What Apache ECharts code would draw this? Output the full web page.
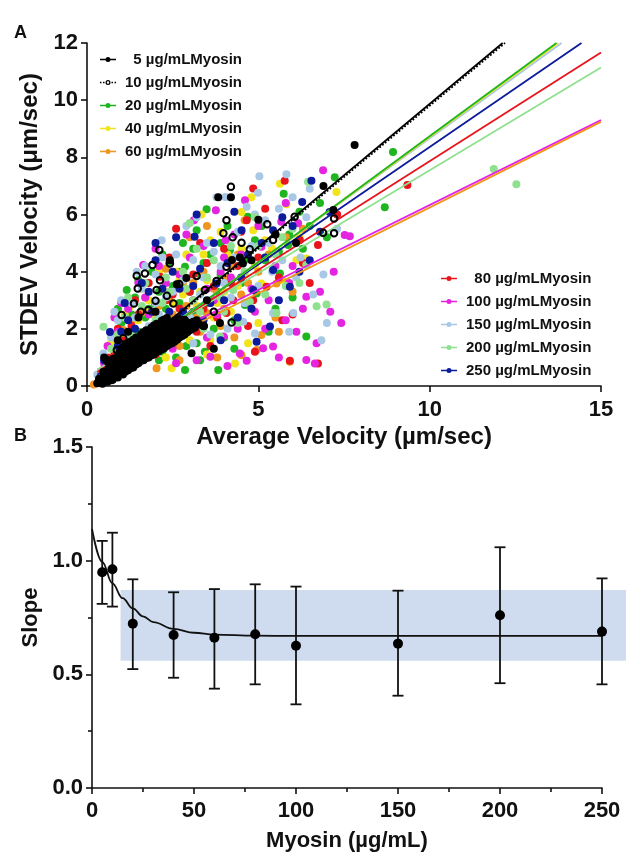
<!DOCTYPE html>
<html>
<head>
<meta charset="utf-8">
<script src="https://cdn.jsdelivr.net/npm/echarts@6/dist/echarts.min.js"></script>
<style>
html,body{margin:0;padding:0;background:#fff;}
#chart{width:626px;height:859px;}
</style>
</head>
<body>
<div id="chart"></div>
<script>
// ---------------- Panel A data ----------------
const seriesNames = ['5 µg/mLMyosin','10 µg/mLMyosin','20 µg/mLMyosin','40 µg/mLMyosin','60 µg/mLMyosin',
  '80 µg/mLMyosin','100 µg/mLMyosin','150 µg/mLMyosin','200 µg/mLMyosin','250 µg/mLMyosin'];
const xTicksA = [0, 5, 10, 15];
const yTicksA = [0, 2, 4, 6, 8, 10, 12];

const pts5 = [[0.3,0.1],[0.35,0.25],[0.45,0.08],[0.45,0.3],[0.48,0.5],[0.6,0.15],[0.58,0.38],[0.62,0.6],[0.6,0.85],
  [0.75,0.22],[0.78,0.45],[0.73,0.7],[0.76,0.95],[0.9,0.3],[0.92,0.55],[0.88,0.8],[0.9,1.05],
  [1.05,0.4],[1.07,0.65],[1.03,0.9],[1.06,1.15],[1.04,1.35],[1.2,0.55],[1.22,0.8],[1.18,1.05],[1.21,1.3],
  [1.35,0.65],[1.38,0.9],[1.33,1.15],[1.36,1.4],[1.35,1.62],[1.5,0.8],[1.52,1.05],[1.48,1.3],[1.51,1.55],
  [1.65,0.9],[1.67,1.15],[1.63,1.4],[1.66,1.65],[1.64,1.88],[1.8,1.0],[1.82,1.28],[1.78,1.52],[1.81,1.78],
  [1.95,1.1],[1.97,1.38],[1.93,1.62],[1.96,1.9],[1.95,2.12],[2.1,1.22],[2.12,1.5],[2.08,1.75],[2.11,2.0],
  [2.25,1.32],[2.27,1.6],[2.23,1.85],[2.26,2.12],[2.24,2.32],[2.4,1.45],[2.42,1.7],[2.38,1.95],[2.41,2.2],
  [2.55,1.55],[2.57,1.82],[2.53,2.05],[2.56,2.3],[2.7,1.7],[2.72,1.95],[2.68,2.2],[2.85,1.8],[2.88,2.05],[2.83,2.32],
  [3.0,1.95],[3.02,2.2],[3.15,2.05],[3.2,2.3],
  [0.38,0.15],[0.52,0.22],[0.55,0.45],[0.66,0.3],[0.68,0.52],[0.7,0.8],[0.82,0.35],[0.85,0.62],[0.83,0.9],
  [0.97,0.45],[0.99,0.72],[0.98,1.0],[0.96,1.2],[1.12,0.5],[1.14,0.78],[1.12,1.02],[1.13,1.25],[1.11,1.45],
  [1.27,0.62],[1.28,0.88],[1.26,1.12],[1.29,1.36],[1.27,1.55],[1.43,0.75],[1.44,1.0],[1.42,1.25],[1.45,1.48],
  [1.43,1.7],[1.58,0.88],[1.59,1.12],[1.57,1.35],[1.6,1.6],[1.58,1.8],[1.73,0.98],[1.74,1.22],[1.72,1.46],
  [1.75,1.72],[1.73,1.95],[1.88,1.08],[1.89,1.32],[1.87,1.56],[1.9,1.82],[1.88,2.05],[2.03,1.18],[2.04,1.42],
  [2.02,1.68],[2.05,1.92],[2.03,2.18],[2.18,1.28],[2.19,1.55],[2.17,1.8],[2.2,2.05],[2.18,2.28],[2.33,1.4],
  [2.34,1.65],[2.32,1.9],[2.35,2.15],[2.33,2.38],[2.48,1.5],[2.49,1.76],[2.47,2.0],[2.5,2.25],[2.63,1.62],
  [2.64,1.88],[2.62,2.12],[2.65,2.38],[2.78,1.75],[2.79,2.0],[2.77,2.25],[2.93,1.88],[2.94,2.12],[3.08,2.0],
  [3.1,2.25],[3.28,2.15],
  [3.4,2.1],[3.05,1.15],[3.88,2.2],[2.9,3.78],[2.62,3.56],[2.42,4.4],[3.83,6.6],[4.2,6.6],[5.0,5.82],[6.9,7.0],
  [7.19,6.16],[4.23,4.41],[4.46,4.5],[4.55,4.29],[7.81,8.43],[1.5,2.4],[1.2,1.9],[0.9,1.6],[2.0,2.6],[3.5,3.0],
  [4.8,4.4],[5.5,5.3],[6.1,5.0],[3.7,1.3],[0.5,1.0]];
const pts10 = [[4.2,6.97],[4.07,5.8],[5.26,5.66],[4.75,4.78],[4.51,5.01],[3.98,5.34],[4.25,5.2],[5.43,5.11],
  [6.06,5.92],[7.21,5.86],[6.89,5.36],[7.21,5.34],[3.41,2.1],[3.7,2.6],[2.11,4.76],[2.42,4.29],[1.91,4.23],
  [1.69,3.94],[1.45,3.86],[2.13,3.7],[2.69,3.57],[3.2,3.85],[3.44,3.36],[3.78,3.67],[4.07,4.17],[2.03,3.36],
  [2.33,3.16],[2.0,2.98],[1.48,3.41],[1.79,2.66],[1.57,2.6],[1.37,2.89],[1.01,2.48],[1.06,1.67],[0.87,1.26],
  [0.57,0.92],[0.72,0.21],[2.86,2.3],[2.52,2.89],[4.22,2.22]];
const pts20 = [[7.23,7.3],[5.74,6.73],[4.69,5.92],[3.49,6.18],[3.2,5.45],[2.86,4.17],[4.17,4.75],[5.87,4.93],
  [5.63,3.94],[4.95,3.24],[4.61,2.83],[2.86,0.56],[3.83,0.56],[3.44,1.2],[1.98,2.89],[1.16,3.36],[6.4,1.73],
  [8.93,8.19],[8.69,6.25],[0.8,1.5],[1.0,2.2],[1.3,2.5],[1.5,1.9],[1.7,2.4],[2.1,3.3],[2.3,2.7],[2.5,3.5],
  [2.7,2.9],[3.0,3.3],[3.1,2.6],[3.3,3.9],[3.6,4.6],[3.9,5.0],[2.2,1.2],[2.6,1.0],[3.2,1.5],[3.7,2.0],[4.3,2.3],
  [4.5,3.6],[5.2,4.4],[5.9,5.3],[6.5,5.6],[1.2,0.7],[0.6,0.9],[1.9,4.0],[2.8,5.0],[4.0,1.7],[0.9,2.7],[2.4,4.3],
  [5.5,2.7],[6.2,6.1],[5.1,5.6],[3.4,4.3],
  [0.7,0.5],[1.1,1.3],[1.4,3.1],[1.6,1.0],[1.8,2.7],[2.0,1.8],[2.2,4.6],[2.5,2.3],[2.7,4.0],[2.9,1.4],[3.1,4.8],
  [3.3,0.9],[3.5,2.9],[3.8,3.3],[4.1,5.6],[4.3,1.3],[4.6,4.4],[4.9,5.1],[5.3,1.9],[5.6,4.7],[6.0,3.1],[6.3,4.8],
  [6.8,6.4],[7.0,5.2],[1.5,3.7],[2.1,0.9],[3.9,3.9]];
const pts40 = [[5.63,7.08],[5.82,6.36],[4.51,6.09],[4.85,5.45],[3.34,6.0],[5.09,3.59],[6.11,4.4],[4.51,4.81],
  [2.71,2.13],[4.32,0.79],[2.47,0.62],[3.6,1.61],[1.74,1.89],[1.25,2.77],[7.28,6.79],[6.4,4.46],[0.8,1.2],
  [1.0,1.8],[1.5,2.3],[1.8,3.0],[2.0,2.4],[2.2,3.4],[2.5,2.9],[2.8,3.2],[3.0,1.6],[3.2,2.8],[3.5,3.7],[3.7,2.4],
  [4.0,3.3],[4.2,2.6],[4.6,3.9],[2.6,4.0],[1.4,1.1],[3.9,5.4],[5.4,4.8],[5.0,2.2],[2.1,1.5],[0.6,0.7],[4.7,1.5],[3.4,4.6],
  [0.7,1.5],[0.9,0.8],[1.1,2.5],[1.3,1.6],[1.6,3.4],[1.9,2.0],[2.1,4.0],[2.4,2.2],[2.7,3.7],[2.9,4.6],[3.1,2.2],
  [3.3,3.3],[3.6,5.1],[3.8,2.9],[4.1,4.6],[4.4,3.5],[4.9,4.2],[5.2,5.1],[5.7,3.7],[6.2,5.2],[2.3,1.0],[3.5,1.1],
  [1.7,2.6],[4.8,6.6]];
const pts60 = [[4.51,1.08],[5.92,0.85],[5.09,1.78],[4.95,1.26],[5.53,3.59],[4.07,3.77],[1.93,1.26],[1.06,1.96],
  [2.03,0.62],[3.49,2.55],[1.25,1.84],[0.2,0.05],[0.4,0.3],[0.7,0.9],[0.9,1.3],[1.4,1.5],[1.6,2.6],[1.8,1.7],
  [2.2,2.2],[2.4,3.0],[2.7,1.4],[2.9,2.8],[3.1,3.6],[3.3,1.9],[3.6,2.9],[3.9,2.1],[4.2,4.2],[4.5,3.2],[4.8,2.7],
  [5.3,4.6],[5.8,5.2],[6.3,5.5],[2.6,2.0],[3.0,5.2],[4.6,5.8],[1.1,2.4],[5.6,1.9],[3.8,1.0],[2.3,4.1],[6.0,3.3],
  [0.5,0.5],[0.8,1.7],[1.0,0.9],[1.3,2.3],[1.5,1.0],[1.7,3.1],[2.0,2.0],[2.1,2.8],[2.5,2.5],[2.8,3.6],[3.2,2.4],
  [3.4,4.0],[3.7,3.4],[4.0,2.7],[4.3,1.7],[4.4,4.6],[4.7,3.6],[5.0,4.0],[5.5,2.4],[1.2,1.3],[2.7,0.9],[3.5,5.6]];
const pts80 = [[5.77,7.18],[4.85,6.91],[4.66,5.8],[6.21,5.11],[6.74,0.79],[5.92,0.88],[4.85,3.0],[5.24,3.47],
  [6.74,4.93],[4.07,2.55],[2.71,2.43],[4.27,3.0],[2.13,3.82],[9.35,7.03],[0.5,0.6],[0.8,1.1],[1.1,1.6],[1.3,2.1],
  [1.6,1.3],[1.9,2.6],[2.2,1.8],[2.5,3.2],[2.9,2.0],[3.1,3.9],[3.4,2.7],[3.7,3.5],[4.0,4.8],[4.4,4.2],[5.0,4.5],
  [5.5,5.3],[6.0,2.5],[6.5,3.6],[3.6,1.4],[2.0,1.1],[3.3,5.0],[5.7,2.3],[1.4,3.0],[0.35,0.2],[7.3,6.0],
  [0.6,1.0],[0.9,2.0],[1.2,1.2],[1.5,2.5],[1.7,1.7],[2.1,2.4],[2.3,3.0],[2.4,4.5],[2.7,2.7],[3.0,3.3],[3.2,1.9],
  [3.5,4.3],[3.8,2.4],[4.2,3.6],[4.5,5.4],[4.7,2.1],[5.2,6.2],[5.6,3.8],[6.3,4.3],[2.6,5.5],[1.8,3.6],[4.9,1.2]];
const pts100 = [[6.89,7.55],[4.61,6.5],[3.76,6.15],[3.12,5.8],[5.67,5.75],[6.16,5.69],[4.05,5.1],[5.09,4.87],
  [6.4,3.12],[6.11,1.9],[6.4,0.91],[4.66,0.88],[5.14,1.32],[3.98,1.73],[3.6,1.02],[1.64,4.23],[2.13,2.31],
  [7.52,5.28],[7.67,5.24],[5.43,1.38],[4.46,1.14],[7.42,2.2],[6.65,0.79],[0.6,1.4],[0.9,1.9],[1.2,2.7],[1.4,1.3],
  [1.7,3.1],[1.9,2.0],[2.3,3.6],[2.5,1.3],[2.8,2.6],[3.0,4.5],[3.3,2.2],[3.5,3.4],[3.8,2.5],[4.2,3.8],[4.4,2.0],
  [4.9,2.6],[5.3,3.0],[5.8,2.3],[6.0,4.2],[6.7,1.5],[2.6,0.8],[4.0,4.5],[2.0,4.8],[1.1,0.6],[5.6,1.0],[7.1,2.6],
  [3.2,0.9],[5.0,5.6],
  [0.5,0.8],[0.8,2.4],[1.0,2.9],[1.3,1.9],[1.5,3.6],[1.8,2.5],[2.1,4.2],[2.4,1.9],[2.7,3.9],[2.9,5.3],[3.1,3.0],
  [3.4,4.9],[3.7,3.0],[3.9,4.0],[4.3,5.3],[4.5,4.6],[4.8,3.4],[5.2,2.0],[5.5,4.2],[5.9,3.6],[6.3,2.7],[6.8,3.3],
  [7.2,4.0],[5.8,6.4],[4.1,0.7],[3.5,1.7]];
const pts150 = [[5.82,7.41],[5.03,7.34],[3.78,6.6],[4.04,6.61],[4.99,6.76],[4.66,6.27],[6.84,1.6],[2.18,5.1],
  [6.23,4.5],[6.02,2.55],[4.56,2.25],[5.43,2.55],[4.9,1.84],[0.48,1.14],[1.45,4.0],[3.1,4.41],[0.7,1.7],[0.9,2.3],
  [1.1,1.2],[1.3,2.9],[1.6,3.4],[1.8,2.1],[2.0,3.9],[2.3,3.1],[2.6,4.6],[2.9,5.6],[3.0,2.4],[3.3,3.2],[3.5,5.0],
  [3.9,4.2],[4.2,3.1],[4.4,5.4],[4.8,4.9],[5.2,5.8],[5.6,6.2],[6.0,6.6],[6.5,6.9],[3.6,1.8],[2.4,1.6],[1.5,0.9],
  [0.3,0.4],[5.0,3.5],[6.6,3.2],[7.0,2.2],[2.8,3.7],[1.9,1.4],[5.4,4.0],[7.3,5.5],
  [0.6,0.6],[0.8,2.6],[1.0,3.0],[1.2,1.8],[1.4,2.4],[1.7,4.2],[2.1,2.5],[2.2,4.5],[2.5,3.3],[2.7,2.0],[3.2,5.9],
  [3.4,3.8],[3.7,4.7],[4.0,3.6],[4.3,4.5],[4.6,2.9],[4.9,6.0],[5.3,5.0],[5.7,4.4],[6.1,3.8],[6.4,5.9],[3.1,1.5],
  [4.1,2.0],[2.0,2.9],[1.6,1.5],[5.9,1.9],[6.9,3.9]];
const pts200 = [[6.45,7.15],[6.7,2.79],[6.99,2.85],[6.4,4.23],[5.53,2.55],[4.75,2.95],[4.27,3.36],[0.48,2.07],
  [3.88,1.73],[11.87,7.59],[12.53,7.06],[0.7,1.3],[1.0,1.0],[1.3,1.8],[1.6,2.8],[1.9,1.6],[2.2,2.9],[2.5,2.2],
  [2.8,4.0],[3.1,3.0],[3.4,2.0],[3.7,4.4],[4.0,2.6],[4.6,4.0],[5.0,4.9],[5.5,4.6],[6.0,5.5],[2.3,3.8],[3.2,4.8],
  [5.8,3.5],[1.2,3.1],[4.9,5.9],
  [0.6,0.9],[0.9,1.8],[1.1,2.4],[1.4,1.2],[1.7,3.6],[2.0,2.3],[2.4,3.3],[2.6,1.6],[2.9,3.4],[3.3,2.6],[3.5,3.8],
  [3.9,3.1],[4.2,4.9],[4.4,2.2],[5.2,3.2],[5.7,5.2],[6.2,3.6],[3.0,5.7]];
const pts250 = [[6.55,7.18],[6.28,6.44],[7.08,6.09],[5.43,5.45],[4.51,5.45],[3.14,5.22],[5.43,4.06],[5.92,3.47],
  [5.34,2.08],[4.95,1.55],[3.78,3.59],[4.85,3.36],[0.67,1.89],[0.5,0.9],[0.9,1.4],[1.2,2.3],[1.5,1.6],[1.8,3.3],
  [2.1,2.1],[2.4,2.6],[2.7,3.4],[3.0,2.2],[3.3,4.1],[3.6,2.9],[4.1,4.3],[4.4,2.4],[4.7,4.6],[5.1,5.0],[5.7,5.9],
  [6.2,4.0],[2.0,4.4],[1.3,0.8],[3.9,1.6],[4.3,6.1],[2.6,5.2],[6.8,5.4],
  [0.7,0.7],[1.0,1.9],[1.1,2.9],[1.4,2.0],[1.6,3.6],[1.9,2.6],[2.2,3.4],[2.3,1.5],[2.5,4.0],[2.8,2.6],[3.1,3.5],
  [3.4,2.3],[3.7,5.0],[4.0,3.0],[4.5,3.8],[4.8,2.7],[5.2,4.5],[5.6,3.0],[6.0,5.6],[6.5,4.4],[3.2,6.0],[2.0,5.0]];

// fitted lines (end points)
const fit5 = [[0.3,0.17],[12.13,12]];
const fit10 = [[0.3,0.12],[12.2,12]];
const fit20 = [[0.3,0.19],[13.7,12]];
const fit40 = [[0.3,0.2],[13.75,12]];
const fit60 = [[0.3,0.43],[15,9.24]];
const fit80 = [[0.3,0.49],[15,11.67]];
const fit100 = [[0.3,0.57],[15,9.3]];
const fit150 = [[0.3,0.25],[13.85,12]];
const fit200 = [[0.3,0.57],[15,11.14]];
const fit250 = [[0.3,0.39],[14.43,12]];

// ---------------- Panel B data ----------------
const myosin = [5, 10, 20, 40, 60, 80, 100, 150, 200, 250];
const slope = [0.949, 0.962, 0.723, 0.673, 0.661, 0.676, 0.626, 0.635, 0.760, 0.688];
const slopeHigh = [1.087, 1.123, 0.918, 0.861, 0.875, 0.896, 0.886, 0.868, 1.059, 0.922];
const slopeLow = [0.810, 0.798, 0.523, 0.485, 0.437, 0.456, 0.368, 0.406, 0.461, 0.456];
const curveX = [0, 5, 10, 15, 20, 25, 30, 40, 50, 60, 80, 100, 150, 200, 250];
const curveY = [1.14, 0.995, 0.90, 0.835, 0.79, 0.755, 0.73, 0.70, 0.683, 0.675, 0.670, 0.669, 0.669, 0.669, 0.669];
const bandX = [14, 262];
const bandY = [0.56, 0.871];
const xTicksB = [0, 50, 100, 150, 200, 250];
const yTicksB = [0.0, 0.5, 1.0, 1.5];

// ---------------- styling ----------------
const FONT = '"Liberation Sans", Arial, Helvetica, sans-serif';
const colors = ['#000000','#000000','#1fb51f','#f2e41a','#f0951e','#e8141c','#e424e0','#a9c8e6','#8fe08f','#0c1a9c'];
const ptsAll = [pts5, pts10, pts20, pts40, pts60, pts80, pts100, pts150, pts200, pts250];
const fitsAll = [fit5, fit10, fit20, fit40, fit60, fit80, fit100, fit150, fit200, fit250];

const ICON_SOLID = 'path://M0,1.75H16V3.25H0Z M5.5,2.5A2.5,2.5 0 1,1 10.5,2.5A2.5,2.5 0 1,1 5.5,2.5Z';
const ICON_DOT = 'path://M0,1.8H1.5V3.2H0Z M3,1.8H4.5V3.2H3Z M11.5,1.8H13V3.2H11.5Z M14.5,1.8H16V3.2H14.5Z M5.5,2.5A2.5,2.5 0 1,1 10.5,2.5A2.5,2.5 0 1,1 5.5,2.5Z M6.8,2.5A1.2,1.2 0 1,0 9.2,2.5A1.2,1.2 0 1,0 6.8,2.5Z';

function legendItem(i) {
  return { name: seriesNames[i], icon: i === 1 ? ICON_DOT : ICON_SOLID,
    itemStyle: { color: colors[i], borderWidth: 0, opacity: 1 } };
}
const legendText = { fontSize: 15, fontWeight: 'bold', fontFamily: FONT, color: '#111', lineHeight: 15, padding: [0,0,0,4] };
const padName = n => (n.startsWith('5 ') || n.startsWith('80 ')) ? '  ' + n : n;

const axisLineStyle = { color: '#111', width: 1.6 };
const tickLabel = { fontSize: 22, fontWeight: 'bold', fontFamily: FONT, color: '#111' };
const nameStyleA = { fontSize: 24, fontWeight: 'bold', fontFamily: FONT, color: '#111' };
const nameStyleB = { fontSize: 22, fontWeight: 'bold', fontFamily: FONT, color: '#111' };

const series = [];
// scatter (colored first)
const scatterOrder = [2,3,4,5,6,7,8,9];
scatterOrder.forEach(i => {
  series.push({ type: 'scatter', name: seriesNames[i], xAxisIndex: 0, yAxisIndex: 0,
    data: ptsAll[i], symbolSize: 8, z: 2, itemStyle: { color: colors[i], opacity: 1 } });
});
// fit lines
const lineOrder = [6,4,8,5,9,7,3,2,0,1];
lineOrder.forEach(i => {
  series.push({ type: 'line', name: 'fit ' + seriesNames[i], xAxisIndex: 0, yAxisIndex: 0,
    data: fitsAll[i], showSymbol: false, symbol: 'none', z: 3, silent: true,
    lineStyle: { color: colors[i], width: 1.8, type: i === 1 ? 'dotted' : 'solid' } });
});
series.push({ type: 'scatter', name: seriesNames[0], xAxisIndex: 0, yAxisIndex: 0, data: pts5,
  symbolSize: 8, z: 4, itemStyle: { color: '#000', opacity: 1 } });
series.push({ type: 'scatter', name: seriesNames[1], xAxisIndex: 0, yAxisIndex: 0, data: pts10,
  symbolSize: 6.5, z: 5, itemStyle: { color: 'rgba(0,0,0,0)', borderColor: '#000', borderWidth: 2, opacity: 1 } });

// Panel B
series.push({ type: 'custom', name: 'band', xAxisIndex: 1, yAxisIndex: 1, clip: false, z: 1, silent: true,
  data: [[bandX[0], bandY[0], bandX[1], bandY[1]]],
  renderItem: (params, api) => {
    const p1 = api.coord([api.value(0), api.value(3)]);
    const p2 = api.coord([api.value(2), api.value(1)]);
    return { type: 'rect', shape: { x: p1[0], y: p1[1], width: p2[0] - p1[0], height: p2[1] - p1[1] },
      style: { fill: '#cfdcef' } };
  } });
series.push({ type: 'line', name: 'curve', xAxisIndex: 1, yAxisIndex: 1, data: curveX.map((x, i) => [x, curveY[i]]),
  smooth: 0.4, smoothMonotone: 'x', showSymbol: false, symbol: 'none', z: 3, silent: true,
  lineStyle: { color: '#111', width: 1.8 } });
series.push({ type: 'custom', name: 'err', xAxisIndex: 1, yAxisIndex: 1, z: 4, silent: true,
  data: myosin.map((m, i) => [m, slopeLow[i], slopeHigh[i]]),
  encode: { x: 0, y: [1, 2] },
  renderItem: (params, api) => {
    const hi = api.coord([api.value(0), api.value(2)]);
    const lo = api.coord([api.value(0), api.value(1)]);
    const w = 5.5, st = { stroke: '#111', lineWidth: 1.8 };
    return { type: 'group', children: [
      { type: 'line', shape: { x1: hi[0], y1: hi[1], x2: lo[0], y2: lo[1] }, style: st },
      { type: 'line', shape: { x1: hi[0] - w, y1: hi[1], x2: hi[0] + w, y2: hi[1] }, style: st },
      { type: 'line', shape: { x1: lo[0] - w, y1: lo[1], x2: lo[0] + w, y2: lo[1] }, style: st }
    ] };
  } });
series.push({ type: 'scatter', name: 'slope', xAxisIndex: 1, yAxisIndex: 1, data: myosin.map((m, i) => [m, slope[i]]),
  symbolSize: 10, z: 5, itemStyle: { color: '#000', opacity: 1 } });

const option = {
  backgroundColor: '#fff',
  animation: false,
  title: [
    { text: 'A', left: 9, top: 19, textStyle: { fontSize: 18, fontWeight: 'bold', fontFamily: FONT, color: '#111' } },
    { text: 'B', left: 9, top: 422, textStyle: { fontSize: 18, fontWeight: 'bold', fontFamily: FONT, color: '#111' } }
  ],
  legend: [
    { orient: 'vertical', left: 95, top: 47, itemWidth: 16, itemHeight: 5, itemGap: 8, selectedMode: false,
      textStyle: legendText, formatter: padName, data: [0,1,2,3,4].map(legendItem) },
    { orient: 'vertical', left: 436, top: 266, itemWidth: 16, itemHeight: 5, itemGap: 8, selectedMode: false,
      textStyle: legendText, formatter: padName, data: [5,6,7,8,9].map(legendItem) }
  ],
  grid: [
    { left: 87, top: 43, width: 514, height: 343, containLabel: false, outerBoundsMode: 'none' },
    { left: 92, top: 447, width: 510, height: 341, containLabel: false, outerBoundsMode: 'none' }
  ],
  xAxis: [
    { gridIndex: 0, type: 'value', min: xTicksA[0], max: xTicksA[xTicksA.length - 1], interval: 5,
      axisLine: { show: true, lineStyle: axisLineStyle }, axisTick: { show: true, length: 6, lineStyle: axisLineStyle },
      axisLabel: { ...tickLabel, margin: 13 }, splitLine: { show: false },
      name: 'Average Velocity (µm/sec)', nameLocation: 'middle', nameGap: 39, nameTextStyle: nameStyleA },
    { gridIndex: 1, type: 'value', min: xTicksB[0], max: xTicksB[xTicksB.length - 1], interval: 50,
      axisLine: { show: true, lineStyle: axisLineStyle }, axisTick: { show: true, length: 6, lineStyle: axisLineStyle },
      minorTick: { show: true, splitNumber: 2, length: 4, lineStyle: axisLineStyle },
      axisLabel: { ...tickLabel, margin: 12 }, splitLine: { show: false },
      name: 'Myosin (µg/mL)', nameLocation: 'middle', nameGap: 42, nameTextStyle: nameStyleB }
  ],
  yAxis: [
    { gridIndex: 0, type: 'value', min: yTicksA[0], max: yTicksA[yTicksA.length - 1], interval: 2,
      axisLine: { show: true, lineStyle: axisLineStyle }, axisTick: { show: true, length: 6, lineStyle: axisLineStyle },
      axisLabel: { ...tickLabel, margin: 9 }, splitLine: { show: false },
      name: 'STDEV Velocity (μm/sec)', nameLocation: 'middle', nameGap: 45, nameTextStyle: nameStyleA },
    { gridIndex: 1, type: 'value', min: yTicksB[0], max: yTicksB[yTicksB.length - 1], interval: 0.5,
      axisLine: { show: true, lineStyle: axisLineStyle }, axisTick: { show: true, length: 6, lineStyle: axisLineStyle },
      minorTick: { show: true, splitNumber: 2, length: 4, lineStyle: axisLineStyle },
      axisLabel: { ...tickLabel, margin: 9, formatter: v => v.toFixed(1) }, splitLine: { show: false },
      name: 'Slope', nameLocation: 'middle', nameGap: 50, nameTextStyle: nameStyleB }
  ],
  series: series
};

const chart = echarts.init(document.getElementById('chart'), null, { renderer: 'canvas' });
chart.setOption(option);
</script>
</body>
</html>
